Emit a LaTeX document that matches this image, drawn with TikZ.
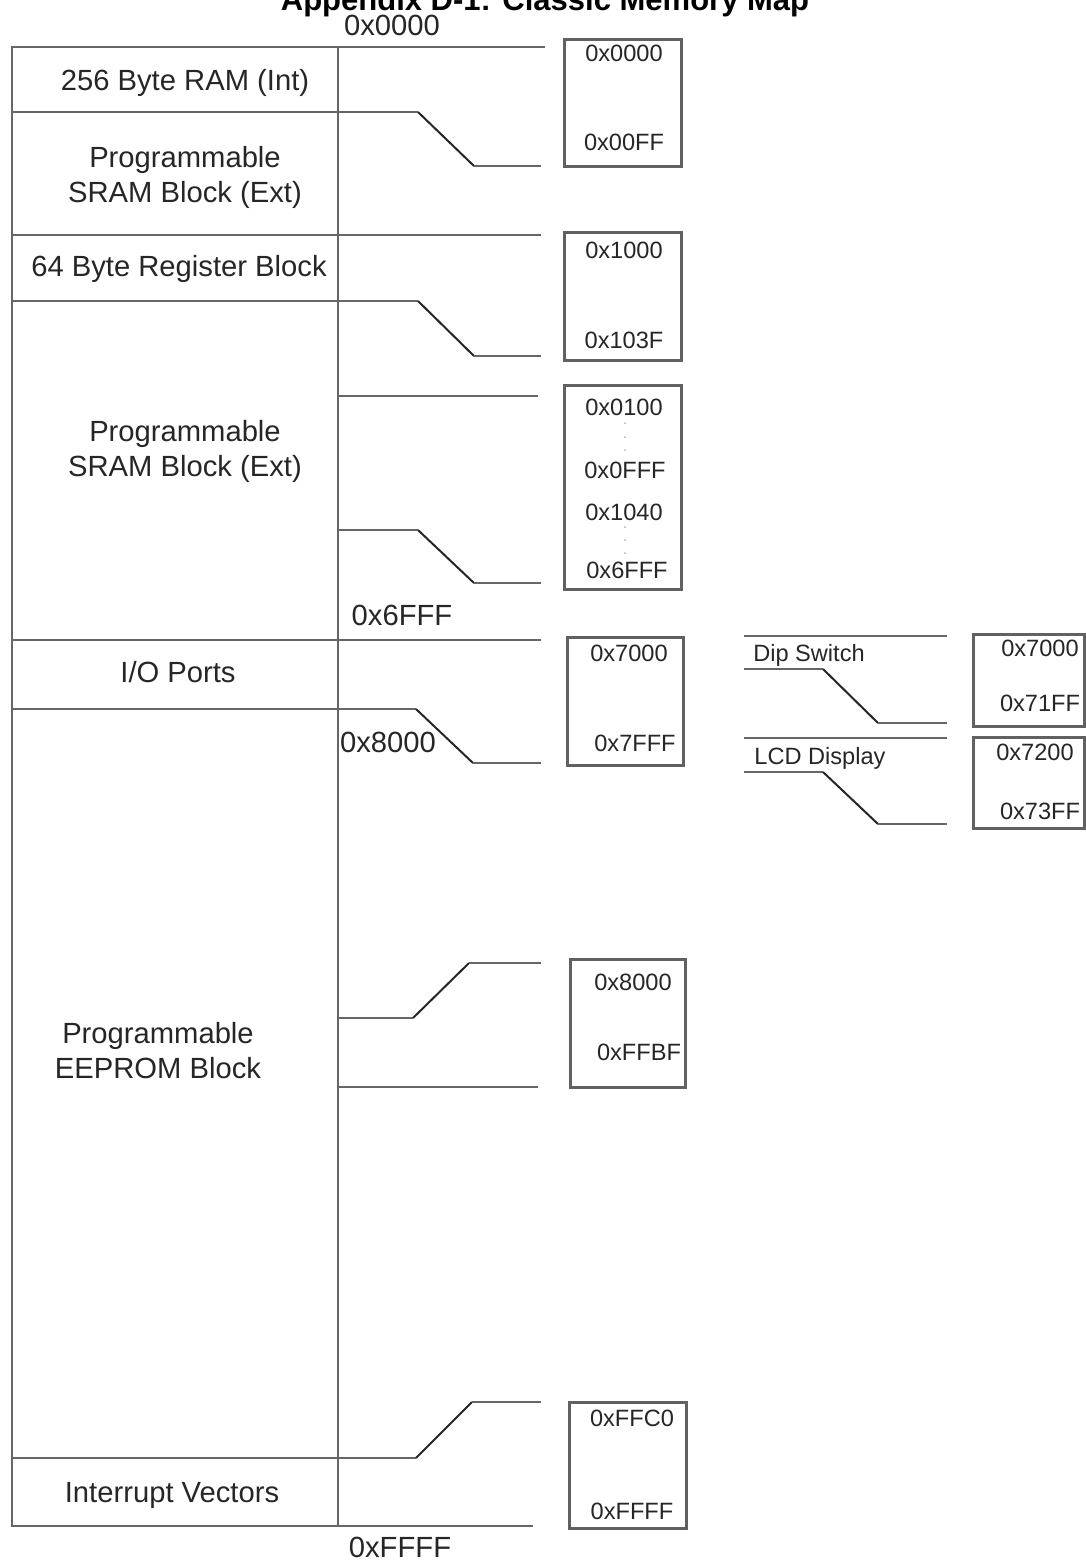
\documentclass[tikz,border=0pt]{standalone}
\usepackage{fontspec}
\setmainfont{Liberation Sans}
\usepackage{xcolor}
\usetikzlibrary{positioning,fit}
\newcommand{\regionsize}{\fontsize{14.6}{17.5}\selectfont}
\newcommand{\addrsize}{\fontsize{11.8}{14}\selectfont}
\tikzset{
  bus/.style={draw=black!60,line width=1.4pt},
  jog/.style={draw=black!85,line width=1pt},
  rangebox/.style={draw=black!62,line width=1.5pt,inner sep=0pt},
  region/.style={font=\regionsize,text=black!85,align=center},
  addr/.style={font=\addrsize,text=black!85,inner sep=0pt},
}

\begin{document}
\begin{tikzpicture}[x=0.5pt,y=-0.5pt]
\useasboundingbox (0,0) rectangle (1086,1560);
\clip (0,0) rectangle (1086,1560);
\node[font=\fontsize{15.5}{18}\selectfont\bfseries,anchor=base] (title) at (545,10) {Appendix D-1: Classic Memory Map};
% memory column
\draw[bus] (12,47) rectangle (338,1526);
\foreach \y/\x in {47/545,235/541,640/541,1526/533} \draw[bus] (12,\y) -- (\x,\y);
\foreach \y in {396,1087} \draw[bus] (338,\y) -- (538,\y);
% stepped taps: start x, start y, bend x, end bend x, end y, end x
\foreach \xa/\ya/\xb/\xc/\yb/\xd in {12/112/418/474/166/541,12/301/418/474/356/541,338/530/418/474/583/541,12/709/416/473/763/541,338/1018/413/469/963/541,12/1458/416/472/1402/541,744/669/823/878/723/947,744/772/823/878/824/947}{
  \draw[bus] (\xa,\ya) -- (\xb,\ya);
  \draw[jog] (\xb,\ya) -- (\xc,\yb);
  \draw[bus] (\xc,\yb) -- (\xd,\yb);
}
\foreach \y in {636,738} \draw[bus] (744,\y) -- (947,\y);
\node[region] (ram) at (185,83) {256 Byte RAM (Int)};
\node[region] (sramA) at (185,177) {Programmable\\SRAM Block (Ext)};
\node[region] (regs) at (179,269) {64 Byte Register Block};
\node[region] (sramB) at (185,451) {Programmable\\SRAM Block (Ext)};
\node[region] (io) at (178,672) {I/O Ports};
\node[region] (eeprom) at (158,1051) {Programmable\\EEPROM Block};
\node[region] (vectors) at (172,1495) {Interrupt Vectors};
\node[region] (startaddr) at (392,25) {0x0000};
\node[region] (sramend) at (402,615) {0x6FFF};
\node[region] (eepromstart) at (388,742) {0x8000};
\node[region] (endaddr) at (400,1547) {0xFFFF};
% address range boxes
\node[rangebox,fit={(564,39) (681,166)}] (boxram) {};
\node[rangebox,fit={(564,232) (681,360)}] (boxregs) {};
\node[rangebox,fit={(564,385) (681,589)}] (boxsram) {};
\node[rangebox,fit={(567,637) (683,765)}] (boxio) {};
\node[rangebox,fit={(973,634) (1084,726)}] (boxdip) {};
\node[rangebox,fit={(973,737) (1084,828)}] (boxlcd) {};
\node[rangebox,fit={(570,959) (685,1087)}] (boxeeprom) {};
\node[rangebox,fit={(569,1402) (686,1528)}] (boxvec) {};
\node[addr] (ramlo) at (624,53) {0x0000};
\node[addr] (ramhi) at (624,142) {0x00FF};
\node[addr] (regslo) at (624,250) {0x1000};
\node[addr] (regshi) at (624,340) {0x103F};
\node[addr] (sramlo) at (624,407) {0x0100};
\node[addr] (sramgap) at (625,470) {0x0FFF};
\node[addr] (sramgapend) at (624,512) {0x1040};
\node[addr] (sramhi) at (627,570) {0x6FFF};
\foreach \y in {423,437,450,527,540,553} \fill[black!30] (625,\y) circle (0.5pt);
\node[addr] (iolo) at (629,653) {0x7000};
\node[addr] (iohi) at (635,743) {0x7FFF};
\node[addr] (diplo) at (1040,648) {0x7000};
\node[addr] (diphi) at (1040,703) {0x71FF};
\node[addr] (lcdlo) at (1035,752) {0x7200};
\node[addr] (lcdhi) at (1040,811) {0x73FF};
\node[addr] (eepromlo) at (633,982) {0x8000};
\node[addr] (eepromhi) at (639,1052) {0xFFBF};
\node[addr] (veclo) at (632,1418) {0xFFC0};
\node[addr] (vechi) at (632,1511) {0xFFFF};
\node[addr] (dip) at (809,655) {Dip Switch};
\node[addr] (lcd) at (820,758) {LCD Display};
\end{tikzpicture}
\end{document}
